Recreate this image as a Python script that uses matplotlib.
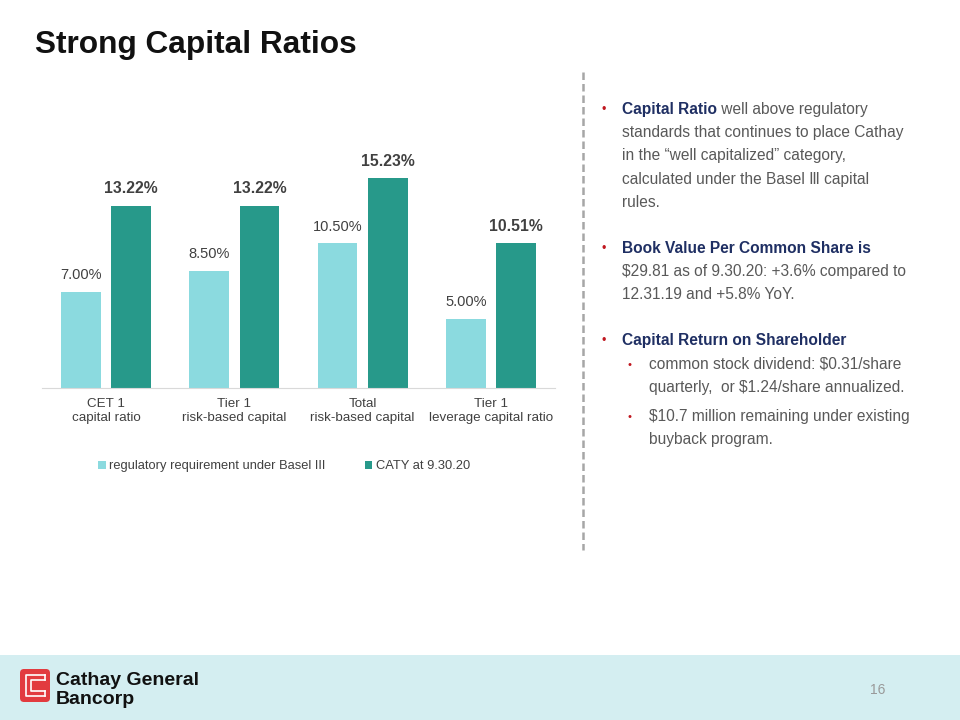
import numpy as np
import matplotlib
matplotlib.use("Agg")
import matplotlib.pyplot as plt
from matplotlib.patches import Rectangle, FancyBboxPatch

plt.rcParams['font.family'] = ['Liberation Sans', 'DejaVu Sans']

# data
categories = ["CET 1\ncapital ratio", "Tier 1\nrisk-based capital",
              "Total\nrisk-based capital", "Tier 1\nleverage capital ratio"]
regulatory = [7.00, 8.50, 10.50, 5.00]
caty = [13.22, 13.22, 15.23, 10.51]
series_names = ["regulatory requirement under Basel III", "CATY at 9.30.20"]

light = "#8BDADF"
dark = "#27998A"
txt_gray = "#595959"
navy = "#1F2F63"
red = "#C0171F"

fig = plt.figure(figsize=(9.6, 7.2), dpi=100)

# full-page overlay axes in pixel coords
bg = fig.add_axes([0, 0, 1, 1], zorder=0)
bg.set_xlim(0, 960)
bg.set_ylim(720, 0)
bg.axis("off")

bg.add_patch(Rectangle((0, 655), 960, 65, color="#D4EEF1", lw=0))
bg.plot([583, 583], [72, 550], color="#A6A6A6", lw=1.8, ls=(0, (3, 1.6)))

bg.text(35, 53, "Strong Capital Ratios", fontsize=22.8, fontweight="bold",
        color="#111111", va="baseline")

# logo
bg.add_patch(FancyBboxPatch((20, 669), 30, 33, boxstyle="round,pad=0,rounding_size=4",
                            fc="#E23B3F", ec="none"))
bg.plot([45, 26, 26, 45], [675, 675, 696, 696], color="white", lw=1.2)
bg.plot([45, 31, 31, 45], [680, 680, 691, 691], color="white", lw=1.2)
bg.plot([45, 45], [680, 675], color="white", lw=1.2)
bg.plot([45, 45], [691, 696], color="white", lw=1.2)
bg.text(56, 685, "Cathay General", fontsize=14, fontweight="bold", color="#111111",
        va="baseline")
bg.text(56, 704, "Bancorp", fontsize=14, fontweight="bold", color="#111111",
        va="baseline")
bg.text(878, 694, "16", fontsize=10, color="#999999", ha="center", va="baseline")

# right-hand text
def bullet(x, y, size=9):
    bg.text(x, y - 1, "\u2022", color=red, fontsize=size, ha="center", va="baseline")

def mixed(x, y, bold, rest, size=11.2):
    t = bg.text(x, y, bold, fontsize=size, fontweight="bold", color=navy, va="baseline")
    if rest:
        bg.annotate(rest, xy=(1, 0), xycoords=t, fontsize=size, color=txt_gray,
                    va="bottom", ha="left")

fs = 11.2
step = 23.2
bullet(604, 114)
mixed(622, 114, "Capital Ratio", " well above regulatory")
para1 = ["standards that continues to place Cathay",
         "in the \u201cwell capitalized\u201d category,",
         "calculated under the Basel \u2162 capital",
         "rules."]
for i, s in enumerate(para1):
    bg.text(622, 114 + step * (i + 1), s, fontsize=fs, color=txt_gray, va="baseline")

bullet(604, 253)
mixed(622, 253, "Book Value Per Common Share is", "")
para2 = ["$29.81 as of 9.30.20: +3.6% compared to", "12.31.19 and +5.8% YoY."]
for i, s in enumerate(para2):
    bg.text(622, 253 + step * (i + 1), s, fontsize=fs, color=txt_gray, va="baseline")

bullet(604, 345)
mixed(622, 345, "Capital Return on Shareholder", "")
sub = [["common stock dividend: $0.31/share", "quarterly,  or $1.24/share annualized."],
       ["$10.7 million remaining under existing", "buyback program."]]
y0 = 368.5
for lines in sub:
    bullet(630, y0, size=8)
    for s in lines:
        bg.text(649, y0, s, fontsize=fs, color=txt_gray, va="baseline")
        y0 += step
    y0 += 6

# chart
ax = fig.add_axes([42 / 960, 1 - 388 / 720, 513 / 960, 234 / 720], zorder=1)
ax.patch.set_alpha(0)
x = np.arange(len(categories))
w = 0.31
off = 0.195
b1 = ax.bar(x - off, regulatory, w, color=light, label=series_names[0])
b2 = ax.bar(x + off, caty, w, color=dark, label=series_names[1])
for rect, v in zip(b1, regulatory):
    ax.annotate(f"{v:.2f}%", (rect.get_x() + rect.get_width() / 2, v),
                xytext=(0, 7), textcoords="offset points", ha="center", va="bottom",
                fontsize=10.5, color="#404040")
for rect, v in zip(b2, caty):
    ax.annotate(f"{v:.2f}%", (rect.get_x() + rect.get_width() / 2, v),
                xytext=(0, 7), textcoords="offset points", ha="center", va="bottom",
                fontsize=11.3, fontweight="bold", color="#404040")

ax.set_xlim(-0.5, 3.5)
ax.set_ylim(0, 17)
ax.set_yticks([])
for s in ["top", "left", "right"]:
    ax.spines[s].set_visible(False)
ax.spines["bottom"].set_color("#D9D9D9")
ax.set_xticks(x)
ax.set_xticklabels(categories, fontsize=9.6, color="#404040", linespacing=1.25)
ax.tick_params(axis="x", length=0, pad=7)

ax.legend(loc="center", bbox_to_anchor=(0.472, -0.335), ncol=2, frameon=False,
          fontsize=9.3, handlelength=0.55, handleheight=0.55, handletextpad=0.3,
          columnspacing=3.0, labelcolor="#404040")

fig.savefig("out.png", dpi=100)
